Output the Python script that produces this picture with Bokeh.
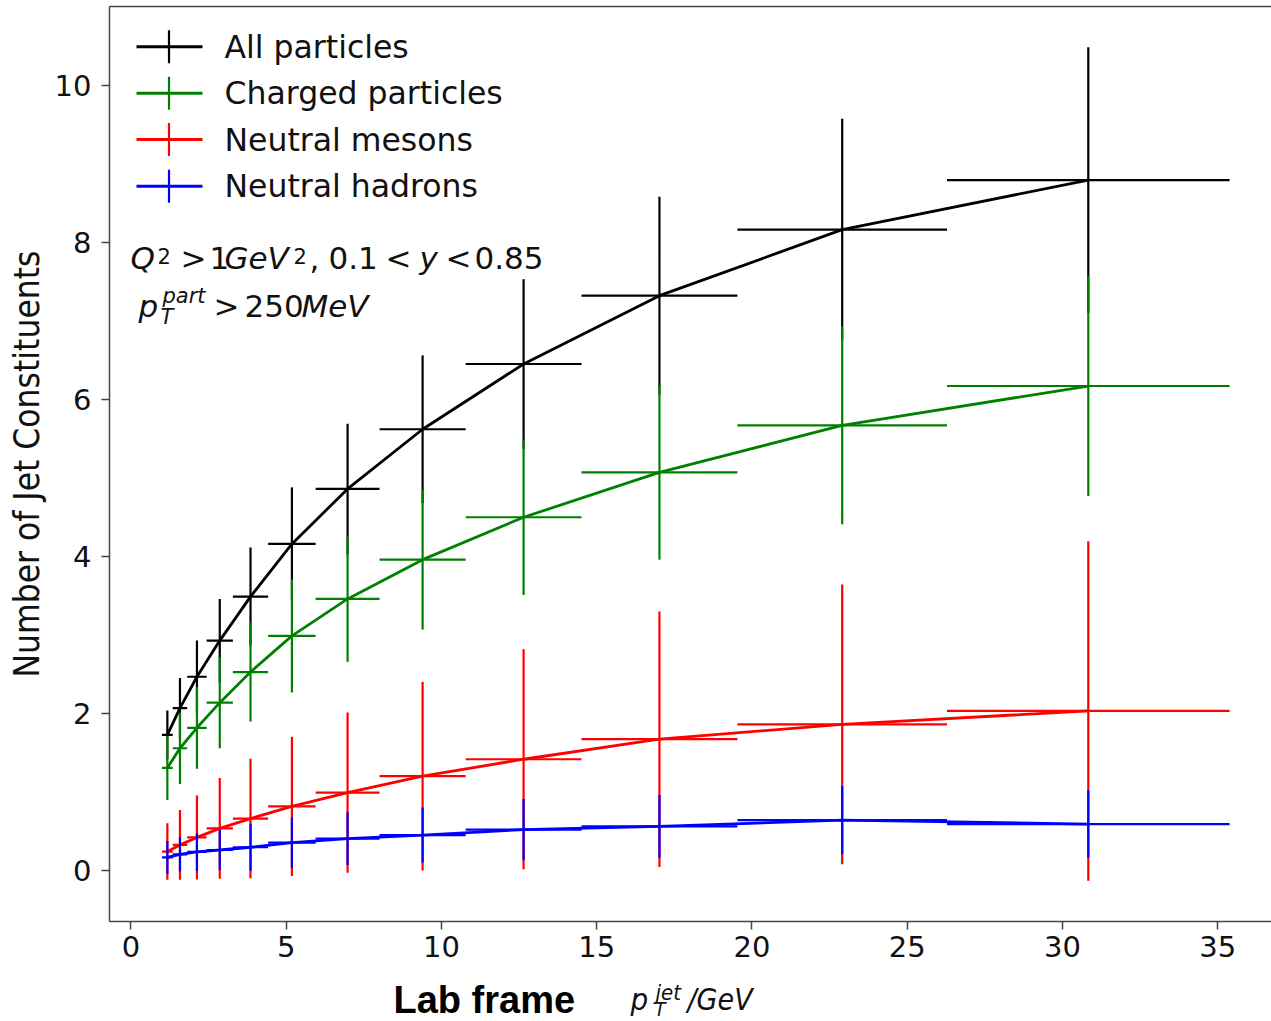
from bokeh.plotting import figure
from bokeh.layouts import column
from bokeh.models import (ColumnDataSource, Label, Whisker, Range1d, FixedTicker, LinearAxis)
from bokeh.embed import file_html
from bokeh.resources import INLINE

# ---------------- data ----------------
bin_lo = [1.00, 1.346, 1.812, 2.439, 3.283, 4.419, 5.948, 8.006, 10.78, 14.51, 19.53, 26.28]
bin_hi = [1.346, 1.812, 2.439, 3.283, 4.419, 5.948, 8.006, 10.78, 14.51, 19.53, 26.28, 35.38]
pt_center = [1.173, 1.579, 2.126, 2.861, 3.851, 5.184, 6.977, 9.393, 12.645, 17.02, 22.905, 30.83]

all_y = [1.73, 2.07, 2.47, 2.93, 3.49, 4.16, 4.86, 5.62, 6.45, 7.32, 8.16, 8.79]
all_err = [0.31, 0.385, 0.46, 0.53, 0.625, 0.72, 0.83, 0.94, 1.08, 1.26, 1.41, 1.69]
charged_y = [1.31, 1.56, 1.82, 2.14, 2.53, 2.99, 3.46, 3.96, 4.50, 5.07, 5.67, 6.17]
charged_err = [0.41, 0.455, 0.52, 0.58, 0.63, 0.72, 0.80, 0.89, 0.99, 1.11, 1.26, 1.40]
meson_y = [0.245, 0.33, 0.425, 0.54, 0.665, 0.82, 0.995, 1.205, 1.42, 1.675, 1.865, 2.035]
meson_err = [0.36, 0.445, 0.535, 0.64, 0.76, 0.885, 1.02, 1.20, 1.40, 1.625, 1.78, 2.16]
hadron_y = [0.17, 0.21, 0.24, 0.265, 0.30, 0.36, 0.41, 0.455, 0.525, 0.565, 0.645, 0.595]
hadron_err = [0.21, 0.22, 0.24, 0.255, 0.30, 0.32, 0.335, 0.35, 0.39, 0.40, 0.435, 0.43]

series_names = ["All particles", "Charged particles", "Neutral mesons", "Neutral hadrons"]
series_colors = ["#000000", "#008000", "#ff0000", "#0000ff"]
series_y = [all_y, charged_y, meson_y, hadron_y]
series_err = [all_err, charged_err, meson_err, hadron_err]

x_ticks = [0, 5, 10, 15, 20, 25, 30, 35]
y_ticks = [0, 2, 4, 6, 8, 10]

# ---------------- layout ----------------
W = 1271
H1 = 969          # main figure height
H2 = 1021 - H1    # strip below holding the x-axis caption
FL, FT = 109, 6
FB = 921          # canvas y of frame bottom
SPINE = "#444444"

p = figure(width=W, height=H1, output_backend="svg", toolbar_location=None,
           x_range=Range1d(-0.69, 36.73), y_range=Range1d(-0.645, 11.0),
           min_border_left=FL, min_border_right=0, min_border_top=FT,
           min_border_bottom=H1 - FB, background_fill_color="white",
           border_fill_color="white")
p.xgrid.visible = False
p.ygrid.visible = False
p.outline_line_color = None

for ax, ticks, stand in ((p.xaxis, x_ticks, 6), (p.yaxis, y_ticks, 10)):
    ax.ticker = FixedTicker(ticks=ticks)
    ax.minor_tick_line_color = None
    ax.major_tick_in = 0
    ax.major_tick_out = 8
    ax.major_tick_line_color = SPINE
    ax.major_tick_line_width = 1.5
    ax.axis_line_color = SPINE
    ax.axis_line_width = 1.5
    ax.major_label_text_font = "DejaVu Sans"
    ax.major_label_text_font_size = "29px"
    ax.major_label_text_color = "#111111"
    ax.major_label_standoff = stand

# top spine only (the right spine lies outside the picture in the reference)
top_axis = LinearAxis(ticker=FixedTicker(ticks=[]), axis_line_color=SPINE, axis_line_width=1.5,
                      major_tick_line_color=None, minor_tick_line_color=None,
                      major_tick_out=0, major_tick_in=0, major_label_standoff=0,
                      major_label_text_font_size="0px")
p.add_layout(top_axis, "above")

p.yaxis.axis_label = "Number of Jet Constituents"
p.yaxis.axis_label_text_font = "DejaVu Sans Condensed, DejaVu Sans"
p.yaxis.axis_label_text_font_size = "35px"
p.yaxis.axis_label_text_font_style = "normal"
p.yaxis.axis_label_text_color = "#111111"
p.yaxis.axis_label_standoff = 5

# ---------------- series ----------------
for name, color, ys, errs in zip(series_names, series_colors, series_y, series_err):
    src = ColumnDataSource(dict(
        x=pt_center, y=ys, lo=bin_lo, hi=bin_hi,
        ylo=[a - b for a, b in zip(ys, errs)],
        yhi=[a + b for a, b in zip(ys, errs)]))
    p.line("x", "y", source=src, line_color=color, line_width=2.8)
    p.segment(x0="lo", y0="y", x1="hi", y1="y", source=src, line_color=color, line_width=2.2)
    p.segment(x0="x", y0="ylo", x1="x", y1="yhi", source=src, line_color=color, line_width=2.2)


# ---------------- legend (manual, matplotlib style) ----------------
row_y = [46.3, 92.7, 139.0, 185.7]
leg_h = ColumnDataSource(dict(base=[FB - r for r in row_y], lower=[136 - FL] * 4,
                              upper=[202 - FL] * 4, color=series_colors))
leg_v = ColumnDataSource(dict(base=[168.5 - FL] * 4, lower=[FB - r - 16.5 for r in row_y],
                              upper=[FB - r + 16.5 for r in row_y], color=series_colors))
p.add_layout(Whisker(source=leg_h, base="base", lower="lower", upper="upper", dimension="width",
                     base_units="screen", lower_units="screen", upper_units="screen",
                     line_color="color", line_width=3, lower_head=None, upper_head=None))
p.add_layout(Whisker(source=leg_v, base="base", lower="lower", upper="upper", dimension="height",
                     base_units="screen", lower_units="screen", upper_units="screen",
                     line_color="color", line_width=2.2, lower_head=None, upper_head=None))

CENTER_K = {"DejaVu Sans": 0.345, "Liberation Sans": 0.347}


def txt(s, cx, base_cy, size, style="normal", font="DejaVu Sans", color="#111111",
        target=None, bottom=FB):
    """place text (screen units of the target's frame) so its baseline lands at canvas y = base_cy"""
    tgt = p if target is None else target
    k = CENTER_K.get(font, 0.345)
    cy = base_cy - k * size
    tgt.add_layout(Label(x=cx - FL, y=bottom - cy, x_units="screen", y_units="screen", text=s,
                         text_font=font, text_font_size=f"{size}px", text_font_style=style,
                         text_baseline="middle", text_align="left", text_color=color))


for name, r in zip(series_names, row_y):
    txt(name, 224, r + 11, 31.5)

# ---------------- annotation ----------------
b1 = 268.3
s1 = 31
txt("Q", 130, b1, s1, "italic")
txt("2", 157, b1 - 6, 21)
txt(">", 180, b1, s1)
txt("1", 209, b1, s1)
txt("GeV", 224, b1, s1, "italic")
txt("2", 293, b1 - 6, 21)
txt(",", 309, b1, s1)
txt("0.1", 328, b1, s1)
txt("<", 385, b1, s1)
txt("y", 419, b1, s1, "italic")
txt("<", 445, b1, s1)
txt("0.85", 474, b1, s1)

b2 = 316
txt("p", 138, b2, s1, "italic")
txt("part", 162, b2 - 13, 21, "italic")
txt("T", 160, b2 + 8, 21, "italic")
txt(">", 213, b2, s1)
txt("250", 244, b2, s1)
txt("MeV", 301, b2, s1, "italic")

# ---------------- x-axis caption strip (frame aligned with the main frame) ----------------
p2 = figure(width=W, height=H2, output_backend="svg", toolbar_location=None,
            x_range=Range1d(0, 1), y_range=Range1d(0, 1),
            x_axis_location=None, y_axis_location=None,
            min_border_left=FL, min_border_right=0,
            min_border_top=0, min_border_bottom=0,
            background_fill_color="white", border_fill_color="white")
p2.outline_line_color = None
p2.xgrid.visible = False
p2.ygrid.visible = False

cond = "DejaVu Sans Condensed, DejaVu Sans"
cap = dict(target=p2, bottom=1021)
txt("Lab frame", 393, 1013, 38, "bold", font="Liberation Sans", color="#000000", **cap)
txt("p", 630, 1009, 31, "italic", font=cond, **cap)
txt("jet", 655, 1000, 22, "italic", font=cond, **cap)
txt("T", 654, 1015, 20, "italic", font=cond, **cap)
txt("/GeV", 687, 1009, 30, "italic", font=cond, **cap)

layout = column(p, p2, spacing=0)
open("out.html", "w").write(file_html(layout, INLINE))
